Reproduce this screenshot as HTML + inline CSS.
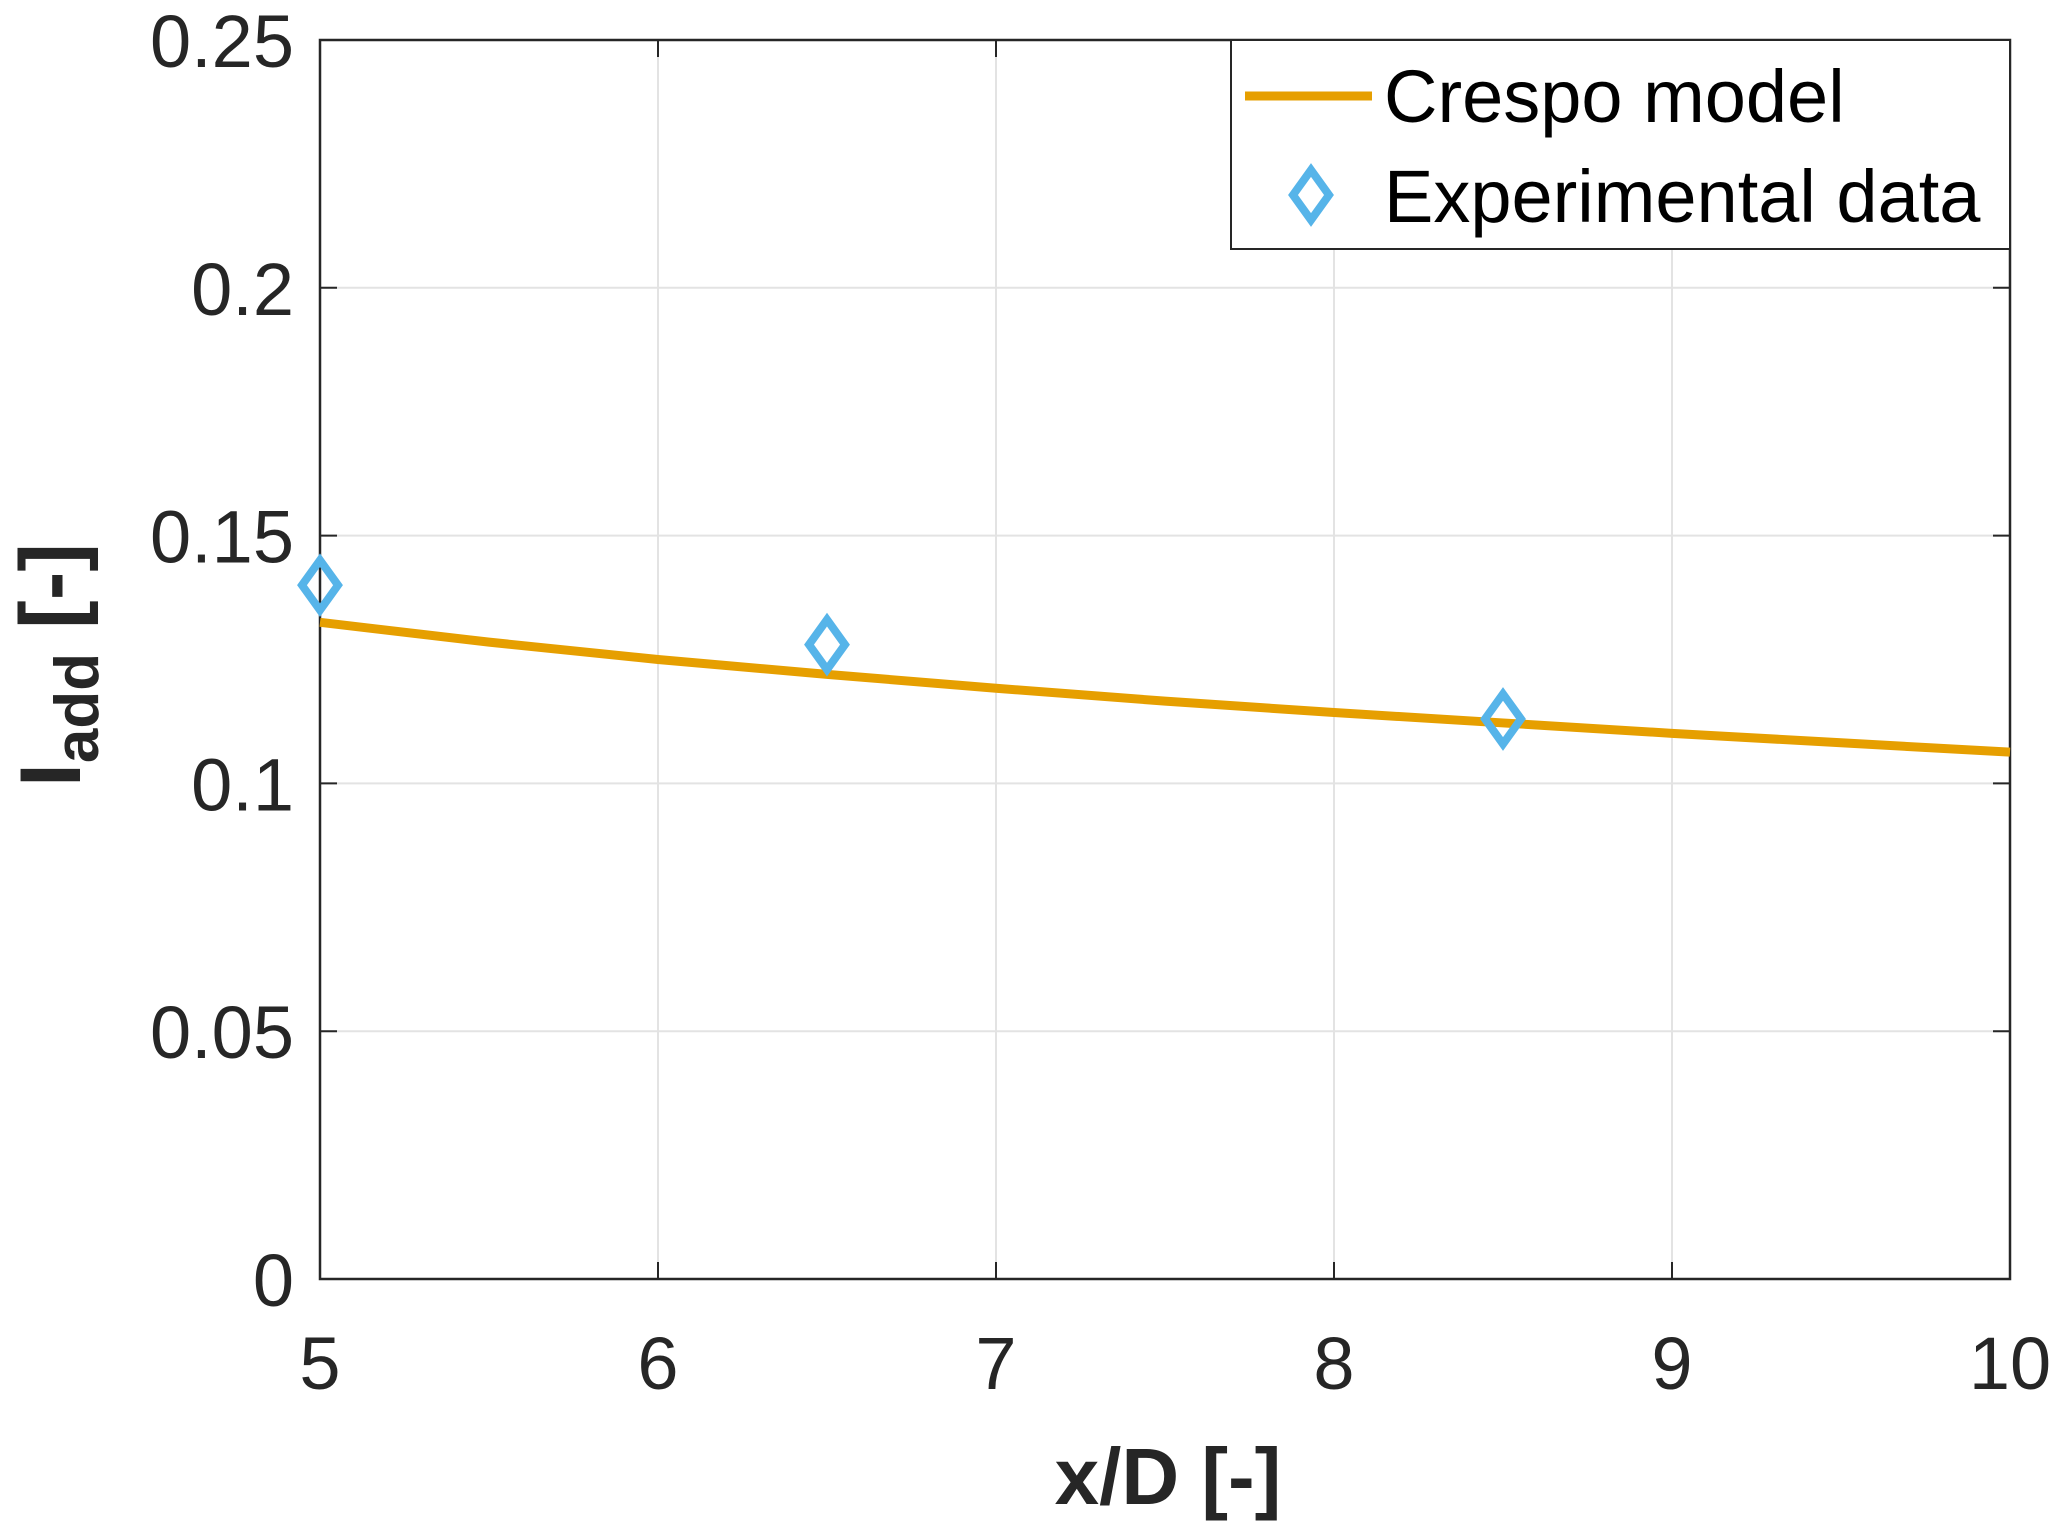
<!DOCTYPE html>
<html><head><meta charset="utf-8"><style>
html,body{margin:0;padding:0;background:#fff;}
svg{display:block;font-family:"Liberation Sans",Arial,sans-serif;}
</style></head><body>
<svg id="chart" width="2067" height="1527" viewBox="0 0 2067 1527">
<g id="grid"></g>
<g id="axes"></g>
<g id="series"></g>
<text x="1168" y="1504" text-anchor="middle" font-size="80" font-weight="bold" fill="#262626">x/D [-]</text>
<text transform="translate(80,665) rotate(-90)" text-anchor="middle" font-size="86" font-weight="bold" fill="#262626">I<tspan font-size="62" dy="18">add</tspan><tspan dy="-18"> [-]</tspan></text>
<g>
<rect x="1231" y="40" width="779" height="209" fill="#fff" stroke="#262626" stroke-width="2"/>
<line x1="1245" y1="96" x2="1372" y2="96" stroke="#E69F00" stroke-width="9"/>
<text x="1384" y="122" font-size="74" fill="#000">Crespo model</text>
<path d="M1311,170 L1329,195 L1311,220 L1293,195 Z" fill="none" stroke="#56B4E9" stroke-width="8"/>
<text x="1384" y="222" font-size="74" fill="#000">Experimental data</text>
</g>
</svg>
<script>
const xTicks = [5, 6, 7, 8, 9, 10];
const yTicks = [0, 0.05, 0.1, 0.15, 0.2, 0.25];
const yTickLabels = ["0", "0.05", "0.1", "0.15", "0.2", "0.25"];
const modelX = [5, 5.5, 6, 6.5, 7, 7.5, 8, 8.5, 9, 9.5, 10];
const modelY = [0.1325, 0.1285, 0.1250, 0.1220, 0.1192, 0.1166, 0.1143, 0.1122, 0.1101, 0.1082, 0.1063];
const expX = [5, 6.5, 8.5];
const expY = [0.140, 0.128, 0.113];

const L=320, R=2010, T=40, B=1279;
const sx = v => L + (v-5)/(10-5)*(R-L);
const sy = v => B - v/0.25*(B-T);
const NS="http://www.w3.org/2000/svg";
function mk(tag, attrs, parent){const e=document.createElementNS(NS,tag);for(const k in attrs)e.setAttribute(k,attrs[k]);parent.appendChild(e);return e;}
const grid=document.getElementById('grid'), axes=document.getElementById('axes'), series=document.getElementById('series');

xTicks.forEach(t=>{
  const x=sx(t);
  const g=mk('line',{x1:x,y1:T,x2:x,y2:B,stroke:'#e3e3e3','stroke-width':2},grid);
  
  
  const a=mk('line',{x1:x,y1:B,x2:x,y2:B-17,stroke:'#262626','stroke-width':2},axes);
  
  
  const b=mk('line',{x1:x,y1:T,x2:x,y2:T+17,stroke:'#262626','stroke-width':2},axes);
  
  
  const lb=mk('text',{x:x,y:1389,'text-anchor':'middle','font-size':74,fill:'#262626'},axes);
  lb.textContent=String(t);
  
  
});
yTicks.forEach((t,i)=>{
  const y=sy(t);
  const g=mk('line',{x1:L,y1:y,x2:R,y2:y,stroke:'#e3e3e3','stroke-width':2},grid);
  
  
  const a=mk('line',{x1:L,y1:y,x2:L+17,y2:y,stroke:'#262626','stroke-width':2},axes);
  
  
  const b=mk('line',{x1:R,y1:y,x2:R-17,y2:y,stroke:'#262626','stroke-width':2},axes);
  
  
  const lb=mk('text',{x:294,y:y+27,'text-anchor':'end','font-size':74,fill:'#262626'},axes);
  lb.textContent=yTickLabels[i];
  
  
});
const frame=mk('rect',{x:L,y:T,width:R-L,height:B-T,fill:'none',stroke:'#262626','stroke-width':2.5},axes);



const pts=modelX.map((x,i)=>sx(x)+','+sy(modelY[i])).join(' ');
const line=mk('polyline',{points:pts,fill:'none',stroke:'#E69F00','stroke-width':9,'stroke-linejoin':'round'},series);



expX.forEach((x,i)=>{
  const cx=sx(x), cy=sy(expY[i]);
  const d=mk('path',{d:`M${cx},${cy-25} L${cx+18},${cy} L${cx},${cy+25} L${cx-18},${cy} Z`,fill:'none',stroke:'#56B4E9','stroke-width':8},series);
  
  
});
</script>
</body></html>
